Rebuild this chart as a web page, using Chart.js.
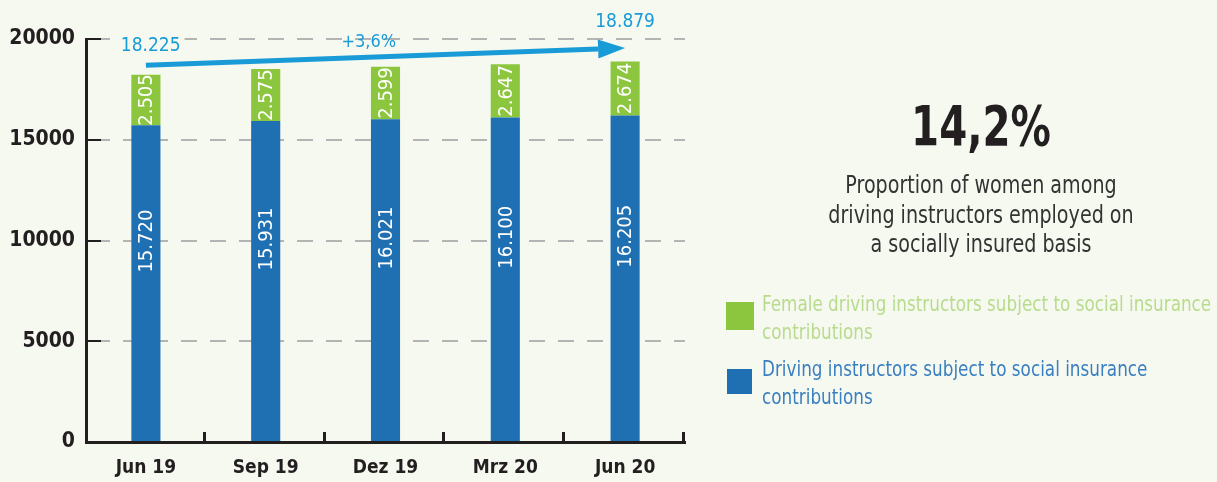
<!DOCTYPE html>
<html>
<head>
<meta charset="utf-8">
<script src="https://cdn.jsdelivr.net/npm/chart.js@4.4.1/dist/chart.umd.min.js"></script>
<style>
  html, body { margin: 0; padding: 0; background: #f6f9f0; }
  #wrap { position: relative; width: 1217px; height: 482px; overflow: hidden; background: #f6f9f0;
          font-family: 'DejaVu Sans Condensed', 'DejaVu Sans', sans-serif; }
  canvas { position: absolute; left: 0; top: 0; }
  .abs { position: absolute; white-space: nowrap; }
  #big { left: 781px; width: 400px; top: 98px; text-align: center; font-size: 56px; font-weight: bold; line-height: 56px; color: #231f20; transform: scaleX(0.80); transform-origin: 200px 0; }
  #desc { left: 781px; width: 400px; top: 170px; text-align: center; font-size: 25px; line-height: 29.5px; color: #333333; transform: scaleX(0.85); transform-origin: 200px 0; }
  .sw { position: absolute; }
  .lg { position: absolute; left: 762px; font-size: 22px; line-height: 28px; white-space: nowrap; transform: scaleX(0.85); transform-origin: 0 0; }
</style>
</head>
<body>
<div id="wrap">
  <canvas id="c" width="1217" height="482"></canvas>
  <div id="big" class="abs"></div>
  <div id="desc" class="abs">Proportion of women among<br>driving instructors employed on<br>a socially insured basis</div>
  <div class="sw" style="left:726px;top:302px;width:28px;height:28px;background:#8cc63f"></div>
  <div class="lg" id="lgGreen" style="top:290px;color:#b9db8e"></div>
  <div class="sw" style="left:727px;top:369px;width:25px;height:25px;background:#1f70b3"></div>
  <div class="lg" id="lgBlue" style="top:355px;color:#3a7fc0"></div>
</div>
<script>
// ---- data ----
const categories = ['Jun 19', 'Sep 19', 'Dez 19', 'Mrz 20', 'Jun 20'];
const totalInstructors = [15720, 15931, 16021, 16100, 16205];
const femaleInstructors = [2505, 2575, 2599, 2647, 2674];
const yTicks = [0, 5000, 10000, 15000, 20000];
const seriesNames = ['Driving instructors subject to social insurance contributions',
                     'Female driving instructors subject to social insurance contributions'];
const arrowValues = [18700, 19550];      // arrow start (Jun 19) / end (Jun 20) heights
const labelHeights = [19650, 20850, 19850]; // first total label, last total label, growth label

const sums = totalInstructors.map((v, i) => v + femaleInstructors[i]);
const fmt = v => v.toLocaleString('de-DE');
const growth = (sums[sums.length - 1] - sums[0]) / sums[0] * 100;
const share = femaleInstructors[femaleInstructors.length - 1] / sums[sums.length - 1] * 100;

document.getElementById('big').textContent = share.toFixed(1).replace('.', ',') + '%';
document.getElementById('lgGreen').innerHTML = 'Female driving instructors subject to social insurance<br>contributions';
document.getElementById('lgBlue').innerHTML = 'Driving instructors subject to social insurance<br>contributions';

const FONT = "'DejaVu Sans Condensed', 'DejaVu Sans', sans-serif";
const BG = '#f6f9f0';
const ARROW = '#199bd8';
const INK = '#231f20';

const decorPlugin = {
  id: 'decor',
  afterDatasetsDraw(chart) {
    const ctx = chart.ctx;
    const xs = chart.scales.x, ys = chart.scales.y;
    const ca = chart.chartArea;
    ctx.save();
    // inward black ticks on y axis
    ctx.strokeStyle = INK; ctx.lineWidth = 2;
    yTicks.forEach(v => {
      if (v === 0) return;
      const y = Math.round(ys.getPixelForValue(v));
      ctx.beginPath(); ctx.moveTo(ca.left, y); ctx.lineTo(ca.left + 15, y); ctx.stroke();
    });
    // upward ticks on x axis at category boundaries
    ctx.lineWidth = 3;
    const n = categories.length;
    for (let i = 1; i <= n; i++) {
      const x = Math.round(xs.left + i * xs.width / n) - 1.5;
      ctx.beginPath(); ctx.moveTo(x, ca.bottom); ctx.lineTo(x, ca.bottom - 10); ctx.stroke();
    }
    // data labels
    ctx.fillStyle = '#ffffff';
    ctx.font = '20px ' + FONT;
    ctx.textAlign = 'center'; ctx.textBaseline = 'middle';
    chart.data.datasets.forEach((ds, di) => {
      const meta = chart.getDatasetMeta(di);
      meta.data.forEach((el, i) => {
        let cy = (el.y + el.base) / 2;
        if (di === 0) cy -= 42;
        ctx.save();
        ctx.translate(el.x, cy);
        ctx.rotate(-Math.PI / 2);
        ctx.fillText(fmt(ds.data[i]), 0, 1);
        ctx.restore();
      });
    });
    // arrow
    const x0 = xs.getPixelForValue(0), x1 = xs.getPixelForValue(n - 1);
    const y0 = ys.getPixelForValue(arrowValues[0]), y1 = ys.getPixelForValue(arrowValues[1]);
    const ang = Math.atan2(y1 - y0, x1 - x0);
    const headLen = 27, headW = 9.5;
    const bx = x1 - headLen * Math.cos(ang), by = y1 - headLen * Math.sin(ang);
    ctx.strokeStyle = ARROW; ctx.fillStyle = ARROW; ctx.lineWidth = 5;
    ctx.beginPath(); ctx.moveTo(x0, y0); ctx.lineTo(bx, by); ctx.stroke();
    ctx.beginPath();
    ctx.moveTo(x1, y1);
    ctx.lineTo(bx + headW * Math.sin(ang), by - headW * Math.cos(ang));
    ctx.lineTo(bx - headW * Math.sin(ang), by + headW * Math.cos(ang));
    ctx.closePath(); ctx.fill();
    // total labels and growth label
    ctx.font = '19px ' + FONT;
    const drawLbl = (txt, xv, yv, mask) => {
      const px = xs.getPixelForValue(xv), py = ys.getPixelForValue(yv);
      if (mask) {
        const w = ctx.measureText(txt).width;
        ctx.fillStyle = BG; ctx.fillRect(px - w / 2 - 4, py - 12, w + 8, 24);
      }
      ctx.fillStyle = ARROW; ctx.fillText(txt, px, py);
    };
    drawLbl(fmt(sums[0]), 0.04, labelHeights[0], true);
    drawLbl(fmt(sums[n - 1]), n - 1, labelHeights[1], false);
    ctx.font = '18px ' + FONT;
    drawLbl('+' + growth.toFixed(1).replace('.', ',') + '%', 1.86, labelHeights[2], false);
    ctx.restore();
  }
};

new Chart(document.getElementById('c'), {
  type: 'bar',
  data: {
    labels: categories,
    datasets: [
      { label: seriesNames[0], data: totalInstructors, backgroundColor: '#1f70b3',
        barPercentage: 0.243, categoryPercentage: 1.0 },
      { label: seriesNames[1], data: femaleInstructors, backgroundColor: '#8cc63f',
        barPercentage: 0.243, categoryPercentage: 1.0 }
    ]
  },
  options: {
    responsive: false,
    animation: false,
    devicePixelRatio: 1,
    layout: { padding: { left: 0, right: 532, top: 39, bottom: 0 } },
    plugins: { legend: { display: false }, tooltip: { enabled: false } },
    scales: {
      x: {
        stacked: true,
        afterFit: s => { s.height = 40; },
        grid: { display: false, drawTicks: false },
        border: { display: true, color: INK, width: 3 },
        ticks: { color: INK, padding: 15, font: { family: FONT, size: 19, weight: 'bold' } }
      },
      y: {
        stacked: true,
        min: 0, max: 20000,
        afterFit: s => { s.width = 86; },
        afterBuildTicks: s => { s.ticks = yTicks.map(v => ({ value: v })); },
        grid: { color: '#b4b4b4', lineWidth: 2, drawTicks: false },
        border: { display: true, color: INK, width: 3, dash: [16, 13], dashOffset: 23 },
        ticks: { color: INK, padding: 11, font: { family: FONT, size: 21, weight: 'bold' },
                 callback: v => String(v) }
      }
    }
  },
  plugins: [decorPlugin]
});
</script>
</body>
</html>
